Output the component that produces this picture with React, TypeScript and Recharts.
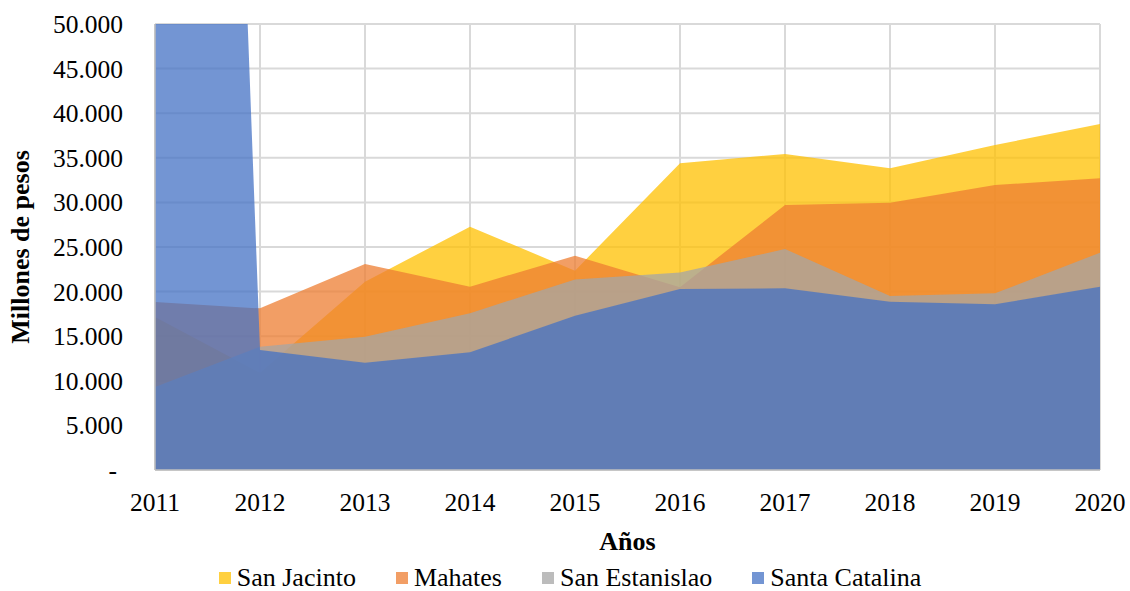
import React from 'react';
import { AreaChart, Area, XAxis, YAxis, CartesianGrid, Legend } from 'recharts';

const years = ['2011', '2012', '2013', '2014', '2015', '2016', '2017', '2018', '2019', '2020'];
const sanJacinto = [17150, 10900, 21100, 27280, 22350, 34380, 35430, 33820, 36430, 38790];
const mahates = [18830, 18120, 23090, 20550, 24030, 20500, 29710, 29970, 31950, 32700];
const sanEstanislao = [9300, 13830, 14950, 17570, 21370, 22130, 24780, 19510, 19810, 24360];
const santaCatalina = [325000, 13450, 12030, 13190, 17300, 20300, 20370, 18870, 18570, 20550];
const yTicks = [0, 5000, 10000, 15000, 20000, 25000, 30000, 35000, 40000, 45000, 50000];

const seriesNames = ['San Jacinto', 'Mahates', 'San Estanislao', 'Santa Catalina'];
const seriesKeys = ['sanJacinto', 'mahates', 'sanEstanislao', 'santaCatalina'];
const seriesColors = ['#FFC000', '#ED7D31', '#A5A5A5', '#4472C4'];

const data = years.map((y, i) => ({
  year: y,
  sanJacinto: sanJacinto[i],
  mahates: mahates[i],
  sanEstanislao: sanEstanislao[i],
  santaCatalina: santaCatalina[i],
}));

const FONT = '"Liberation Serif", "Times New Roman", serif';

const fmt = (v: number) => (v === 0 ? '-' : String(v).replace(/\B(?=(\d{3})+(?!\d))/g, '.'));

const YTick = (props: any) => {
  const { x, y, payload } = props;
  const v = payload.value;
  return (
    <text
      x={v === 0 ? x - 6 : x}
      y={y}
      dy="0.355em"
      textAnchor="end"
      fill="#000"
      fontSize={25.5}
      fontFamily={FONT}
    >
      {fmt(v)}
    </text>
  );
};

const renderLegend = () => (
  <div
    style={{
      display: 'flex',
      justifyContent: 'center',
      alignItems: 'center',
      height: 38,
      boxSizing: 'border-box',
      paddingTop: 12,
      fontFamily: FONT,
      fontSize: 26,
      lineHeight: '26px',
      color: '#000',
    }}
  >
    {seriesNames.map((n, i) => (
      <div key={n} style={{ display: 'flex', alignItems: 'center', height: 26, marginLeft: i === 0 ? 0 : 40 }}>
        <span
          style={{
            display: 'inline-block',
            width: 12,
            height: 12,
            background: seriesColors[i],
            opacity: 0.75,
            marginRight: 6,
          }}
        />
        <span style={{ whiteSpace: 'nowrap', lineHeight: '26px' }}>{n}</span>
      </div>
    ))}
  </div>
);

export default function App() {
  return (
    <div style={{ position: 'absolute', left: 0, top: 0, width: 1130, height: 591, background: '#fff' }}>
      <AreaChart width={1130} height={591} data={data} margin={{ top: 24, right: 30, bottom: 0, left: 0 }}>
        <CartesianGrid stroke="#D9D9D9" strokeWidth={2} />
        <XAxis
          dataKey="year"
          height={83}
          interval={0}
          tickSize={0}
          tickMargin={23}
          tickLine={false}
          axisLine={{ stroke: '#BFBFBF', strokeWidth: 1.5 }}
          tick={{ fill: '#000', fontSize: 25.5, fontFamily: FONT }}
          label={{
            value: 'Años',
            position: 'insideBottom',
            offset: 3,
            style: { fontFamily: FONT, fontSize: 26, fontWeight: 'bold', fill: '#000' },
          }}
        />
        <YAxis
          width={155}
          domain={[0, 50000]}
          allowDataOverflow
          ticks={yTicks}
          interval={0}
          tickSize={0}
          tickMargin={32}
          tickLine={false}
          axisLine={{ stroke: '#BFBFBF', strokeWidth: 1.5 }}
          tick={(p: any) => <YTick {...p} />}
          label={{
            value: 'Millones de pesos',
            angle: -90,
            position: 'insideLeft',
            offset: 20,
            style: { fontFamily: FONT, fontSize: 26, fontWeight: 'bold', fill: '#000', textAnchor: 'middle' },
          }}
        />
        {seriesKeys.map((k, i) => (
          <Area
            key={k}
            type="linear"
            dataKey={k}
            name={seriesNames[i]}
            fill={seriesColors[i]}
            fillOpacity={0.75}
            stroke="none"
            dot={false}
            activeDot={false}
            isAnimationActive={false}
          />
        ))}
        <Legend verticalAlign="bottom" height={38} wrapperStyle={{ left: 5, width: 1130 }} content={renderLegend} />
      </AreaChart>
    </div>
  );
}
